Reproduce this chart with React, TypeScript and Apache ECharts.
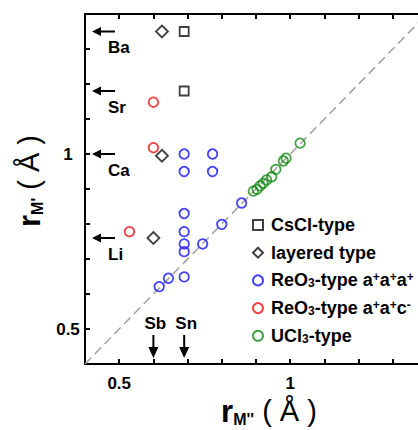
import React, { useEffect, useRef } from "react";
import * as echarts from "echarts";

// ---- data (Å) ----
const cesiumChlorideType = [[0.69, 1.35], [0.69, 1.18]];
const layeredType = [[0.625, 1.35], [0.625, 0.995], [0.6, 0.76]];
const reo3TiltPlus = [
  [0.69, 1.0], [0.773, 1.0], [0.69, 0.95], [0.773, 0.95],
  [0.69, 0.83], [0.69, 0.778], [0.69, 0.743], [0.69, 0.721], [0.69, 0.649],
  [0.617, 0.621], [0.644, 0.645], [0.744, 0.743], [0.8, 0.799], [0.858, 0.86],
];
const reo3TiltMinus = [[0.6, 1.148], [0.6, 1.018], [0.53, 0.778]];
const ucl3Type = [
  [0.892, 0.894], [0.903, 0.899], [0.912, 0.909], [0.921, 0.916], [0.931, 0.926],
  [0.946, 0.935], [0.958, 0.956], [0.98, 0.98], [0.988, 0.988], [1.029, 1.031],
];
const aSiteIons = ["Ba", "Sr", "Ca", "Li"];
const aSiteRadii = [1.35, 1.18, 1.0, 0.76];
const bSiteIons = ["Sb", "Sn"];
const bSiteRadii = [0.6, 0.69];
const xTickLabels = [0.5, 1];
const yTickLabels = [0.5, 1];
const X_MIN = 0.4, X_MAX = 1.4, Y_MIN = 0.4, Y_MAX = 1.4;
const seriesNames = ["CsCl-type", "layered type", "ReO3-type a+a+a+", "ReO3-type a+a+c-", "UCl3-type"];

const FONT = "'Liberation Sans', Arial, sans-serif";

const legendRich: Record<string, string> = {
  "CsCl-type": "CsCl-type",
  "layered type": "layered type",
  "ReO3-type a+a+a+": "ReO{sub|3}-type a{sup|+}a{sup|+}a{sup|+}",
  "ReO3-type a+a+c-": "ReO{sub|3}-type a{sup|+}a{sup|+}c{sup|-}",
  "UCl3-type": "UCl{sub|3}-type",
};

function labelFor(list: number[]) {
  return (v: number) => {
    const hit = list.find((t) => Math.abs(t - v) < 1e-6);
    return hit === undefined ? "" : String(hit);
  };
}

export default function App() {
  const ref = useRef<HTMLDivElement>(null);
  useEffect(() => {
    if (!ref.current) return;
    const chart = echarts.init(ref.current, null, { renderer: "svg" });
    const axisCommon = {
      type: "value" as const,
      interval: 0.1,
      axisLine: { show: true, onZero: false, lineStyle: { color: "#000", width: 2 } },
      axisTick: { show: true, inside: true, length: 5, lineStyle: { color: "#000", width: 2 } },
      splitLine: { show: false },
    };
    const tickFont = { fontSize: 17, fontWeight: "bold" as const, color: "#000", fontFamily: FONT };
    const circle = (color: string, data: number[][], name: string) => ({
      name,
      type: "scatter",
      data,
      symbol: "circle",
      symbolSize: 9.5,
      itemStyle: { color: "rgba(255,255,255,0)", borderColor: color, borderWidth: 1.8 },
      z: 5,
    });
    chart.setOption({
      animation: false,
      backgroundColor: "#fff",
      grid: { left: 85, top: 14, right: -9, bottom: 66, containLabel: false, outerBoundsMode: "none" },
      xAxis: [
        {
          ...axisCommon, min: X_MIN, max: X_MAX, position: "bottom",
          axisLabel: { ...tickFont, margin: 11, formatter: labelFor(xTickLabels) },
        },
        {
          ...axisCommon, min: X_MIN, max: X_MAX, position: "top",
          axisLabel: { show: false },
        },
      ],
      yAxis: [
        {
          ...axisCommon, min: Y_MIN, max: Y_MAX, position: "left",
          axisLabel: { ...tickFont, margin: 17, align: "center", formatter: labelFor(yTickLabels) },
        },
      ],
      legend: {
        orient: "vertical",
        left: 247,
        top: 211,
        itemWidth: 10,
        itemHeight: 10,
        itemGap: 9.7,
        data: seriesNames,
        formatter: (name: string) => legendRich[name],
        textStyle: {
          fontSize: 18, fontFamily: FONT, color: "#000", fontWeight: "bold",
          padding: [0, 0, 0, 3],
          rich: {
            sub: { fontSize: 12, fontFamily: FONT, fontWeight: "bold", verticalAlign: "bottom", lineHeight: 11, color: "#000" },
            sup: { fontSize: 12, fontFamily: FONT, fontWeight: "bold", verticalAlign: "top", lineHeight: 12, color: "#000" },
          },
        },
      },
      graphic: [
        {
          type: "text",
          x: 269,
          y: 411,
          style: {
            text: "{r|r}{m|M''}{p| ( Å )}",
            align: "center",
            verticalAlign: "middle",
            fill: "#000",
            rich: {
              r: { fontSize: 31, fontWeight: "bold", fontFamily: FONT, lineHeight: 32 },
              m: { fontSize: 16, fontWeight: "bold", fontFamily: FONT, lineHeight: 16, verticalAlign: "bottom" },
              p: { fontSize: 29, fontFamily: FONT, lineHeight: 32 },
            },
          },
        },
        {
          type: "text",
          x: 29,
          y: 181,
          rotation: Math.PI / 2,
          style: {
            text: "{r|r}{m|M'}{p| ( Å )}",
            align: "center",
            verticalAlign: "middle",
            fill: "#000",
            rich: {
              r: { fontSize: 31, fontWeight: "bold", fontFamily: FONT, lineHeight: 32 },
              m: { fontSize: 16, fontWeight: "bold", fontFamily: FONT, lineHeight: 16, verticalAlign: "bottom" },
              p: { fontSize: 29, fontFamily: FONT, lineHeight: 32 },
            },
          },
        },
      ],
      series: [
        {
          name: "diagonal",
          type: "line",
          data: [[X_MIN, Y_MIN], [X_MAX, Y_MAX]],
          symbol: "none",
          lineStyle: { color: "#a0a0a0", width: 1.5, type: [9, 5] },
          z: 1,
          silent: true,
        },
        {
          name: seriesNames[0],
          type: "scatter",
          data: cesiumChlorideType,
          symbol: "rect",
          symbolSize: 9,
          itemStyle: { color: "rgba(255,255,255,0)", borderColor: "#111", borderWidth: 1.8 },
          z: 5,
        },
        {
          name: seriesNames[1],
          type: "scatter",
          data: layeredType,
          symbol: "diamond",
          symbolSize: [12, 12],
          itemStyle: { color: "rgba(255,255,255,0)", borderColor: "#111", borderWidth: 1.8 },
          z: 5,
        },
        circle("#1515f5", reo3TiltPlus, seriesNames[2]),
        circle("#f01010", reo3TiltMinus, seriesNames[3]),
        circle("#158a15", ucl3Type, seriesNames[4]),
        {
          name: "A-site",
          type: "custom",
          silent: true,
          z: 6,
          data: aSiteRadii.map((r) => [X_MIN, r]),
          renderItem: (params: any, api: any) => {
            const p = api.coord([api.value(0), api.value(1)]);
            const tipX = p[0] + 7;
            const cy = p[1];
            return {
              type: "group",
              children: [
                { type: "line", shape: { x1: tipX + 6, y1: cy, x2: tipX + 23, y2: cy }, style: { stroke: "#000", lineWidth: 2 } },
                { type: "polygon", shape: { points: [[tipX, cy], [tipX + 9, cy - 4.5], [tipX + 9, cy + 4.5]] }, style: { fill: "#000" } },
                {
                  type: "text",
                  style: {
                    text: aSiteIons[params.dataIndex], x: tipX + 16, y: cy + 16,
                    fontSize: 17, fontWeight: "bold", fontFamily: FONT, fill: "#000",
                    align: "left", verticalAlign: "middle",
                  },
                },
              ],
            };
          },
        },
        {
          name: "B-site",
          type: "custom",
          silent: true,
          z: 6,
          data: bSiteRadii.map((r) => [r, Y_MIN]),
          renderItem: (params: any, api: any) => {
            const p = api.coord([api.value(0), api.value(1)]);
            const cx = p[0];
            const tipY = p[1] - 6;
            return {
              type: "group",
              children: [
                { type: "line", shape: { x1: cx, y1: tipY - 6, x2: cx, y2: tipY - 23 }, style: { stroke: "#000", lineWidth: 2 } },
                { type: "polygon", shape: { points: [[cx, tipY], [cx - 5, tipY - 11], [cx + 5, tipY - 11]] }, style: { fill: "#000" } },
                {
                  type: "text",
                  style: {
                    text: bSiteIons[params.dataIndex], x: cx + 2, y: tipY - 35,
                    fontSize: 17, fontWeight: "bold", fontFamily: FONT, fill: "#000",
                    align: "center", verticalAlign: "middle",
                  },
                },
              ],
            };
          },
        },
      ],
    });
    return () => chart.dispose();
  }, []);
  return (
    <div
      ref={ref}
      style={{ position: "absolute", left: 0, top: 0, width: 418, height: 430, background: "#fff" }}
    />
  );
}
